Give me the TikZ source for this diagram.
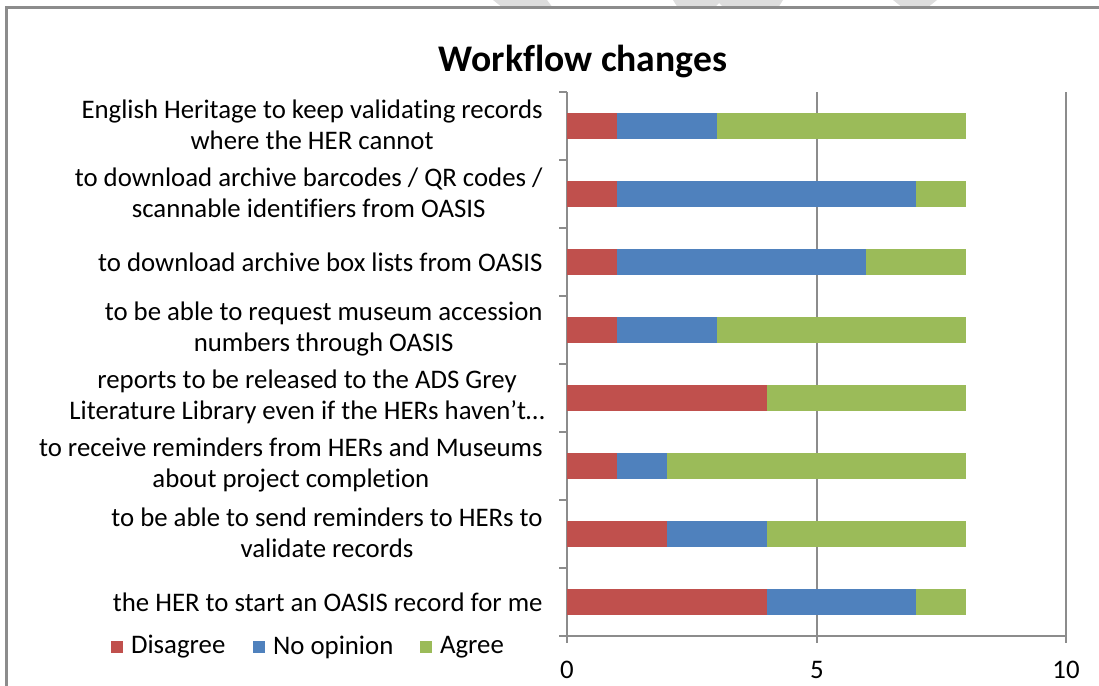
\documentclass[tikz,border=0pt]{standalone}
\usepackage{fontspec}
\setmainfont{Carlito}[Ligatures=NoCommon]
\usetikzlibrary{positioning}
\definecolor{disred}{HTML}{C0504D}
\definecolor{noblue}{HTML}{4F81BD}
\definecolor{agreen}{HTML}{9BBB59}
\definecolor{axisgray}{HTML}{8C8C8C}
\definecolor{markgray}{HTML}{DDDDDD}

\begin{document}
\begin{tikzpicture}[x=0.5pt,y=-0.5pt,
    lbl/.style={anchor=east,align=center,inner sep=0pt,font=\fontsize{13.4}{15.6}\selectfont},
    num/.style={inner sep=0pt,font=\fontsize{13.4}{15}\selectfont},
    key/.style={minimum size=6.3pt,inner sep=0pt},
    keytext/.style={inner sep=0pt,font=\fontsize{13.4}{15}\selectfont},
    axis/.style={draw=axisgray,line width=0.6pt}]
    \useasboundingbox (0,0) rectangle (1099,686);
    % watermark pieces and frame
    \fill [markgray] (493,0) -- (547,0) -- (553,8) -- (503,8) -- cycle;
    \fill [markgray] (673,0) -- (783,0) -- (778,8) -- (724,8) -- (719,3) -- (714,8) -- (678,8) -- cycle;
    \fill [markgray] (893,0) -- (937,0) -- (927,8) -- (903,8) -- cycle;
    \draw [axisgray,line width=1.1pt] (6.5,686) -- (6.5,7.5) -- (1099,7.5);
    \node (title) at (583,61) {\fontsize{18.8}{21}\selectfont\bfseries Workflow changes};
    % grid and axes
    \draw [axis] (817,92) -- (817,643);
    \draw [axis] (1066,92) -- (1066,643);
    \draw [axis] (567,92) -- (567,643);
    \draw [axis] (559,636) -- (1066,636);
    \draw [axis] (559,92) -- (567,92);
    \draw [axis] (559,160) -- (567,160);
    \draw [axis] (559,228) -- (567,228);
    \draw [axis] (559,296) -- (567,296);
    \draw [axis] (559,364) -- (567,364);
    \draw [axis] (559,432) -- (567,432);
    \draw [axis] (559,500) -- (567,500);
    \draw [axis] (559,568) -- (567,568);
    \node [num] (zero) at (567,670) {0};
    \node [num] (five) at (817,670) {5};
    \node [num] (ten) at (1066,670) {10};
    % stacked bars
    \begin{scope}[shift={(567,0)},x=24.95pt]
    \fill [disred] (0,113) rectangle (1,139);
    \fill [noblue] (1,113) rectangle (3,139);
    \fill [agreen] (3,113) rectangle (8,139);
    \fill [disred] (0,181) rectangle (1,207);
    \fill [noblue] (1,181) rectangle (7,207);
    \fill [agreen] (7,181) rectangle (8,207);
    \fill [disred] (0,249) rectangle (1,275);
    \fill [noblue] (1,249) rectangle (6,275);
    \fill [agreen] (6,249) rectangle (8,275);
    \fill [disred] (0,317) rectangle (1,343);
    \fill [noblue] (1,317) rectangle (3,343);
    \fill [agreen] (3,317) rectangle (8,343);
    \fill [disred] (0,385) rectangle (4,411);
    \fill [agreen] (4,385) rectangle (8,411);
    \fill [disred] (0,453) rectangle (1,479);
    \fill [noblue] (1,453) rectangle (2,479);
    \fill [agreen] (2,453) rectangle (8,479);
    \fill [disred] (0,521) rectangle (2,547);
    \fill [noblue] (2,521) rectangle (4,547);
    \fill [agreen] (4,521) rectangle (8,547);
    \fill [disred] (0,589) rectangle (4,615);
    \fill [noblue] (4,589) rectangle (7,615);
    \fill [agreen] (7,589) rectangle (8,615);
    \end{scope}
    % category labels
    \node [lbl] (heritage) at (543,125) {English Heritage to keep validating records\\where the HER cannot};
    \node [lbl] (barcodes) at (543,193) {to download archive barcodes / QR codes /\\scannable identifiers from OASIS};
    \node [lbl] (boxlists) at (543,262) {to download archive box lists from OASIS};
    \node [lbl] (accession) at (543,329) {to be able to request museum accession\\numbers through OASIS};
    \node [lbl] (greylit) at (545,397) {reports to be released to the ADS Grey\\Literature Library even if the HERs haven’t…};
    \node [lbl] (receive) at (543,465) {to receive reminders from HERs and Museums\\about project completion};
    \node [lbl] (send) at (543,533) {to be able to send reminders to HERs to\\validate records};
    \node [lbl] (herstart) at (543,602) {the HER to start an OASIS record for me};
    % legend
    \node [key,fill=disred] (keydis) at (117,647) {};
    \node [keytext,right=3.5pt of keydis] (txtdis) {Disagree};
    \node [key,fill=noblue] (keyno) at (259,647) {};
    \node [keytext,right=3.5pt of keyno] (txtno) {No opinion};
    \node [key,fill=agreen] (keyagr) at (426,647) {};
    \node [keytext,right=3.5pt of keyagr] (txtagr) {Agree};
\end{tikzpicture}
\end{document}
